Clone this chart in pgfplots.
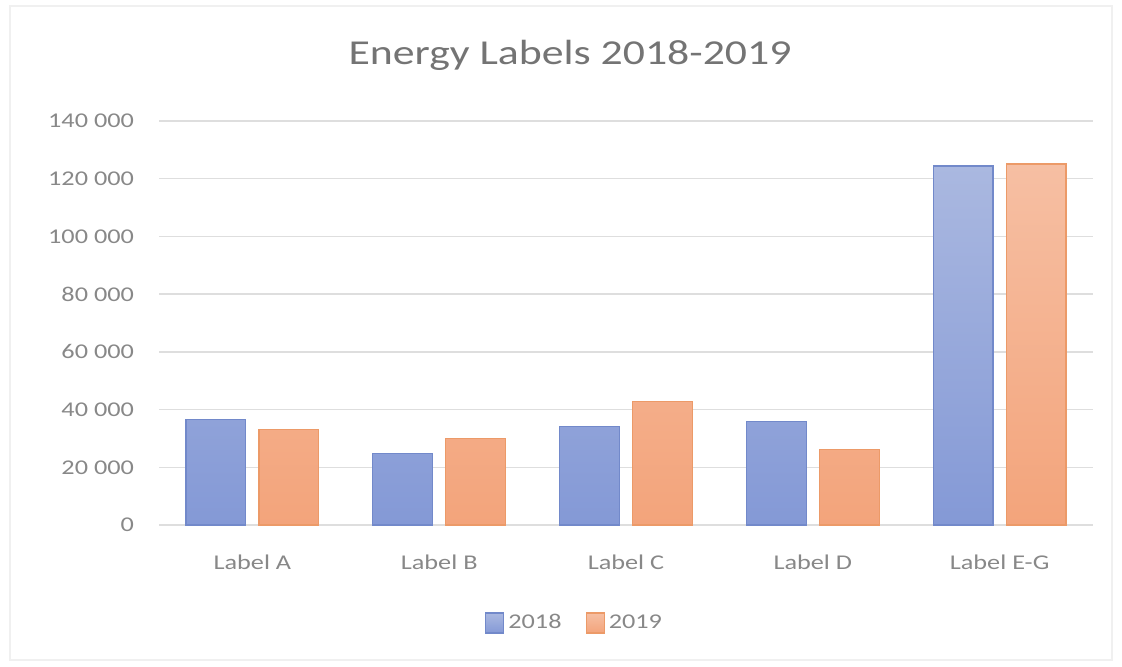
\documentclass[border=0pt]{standalone}
\usepackage{fontspec}
\setmainfont{Carlito}[FakeStretch=1.25]
\usepackage{pgfplots}
\pgfplotsset{compat=1.18}

\definecolor{bluetop}{HTML}{AAB8E0}
\definecolor{bluebot}{HTML}{8499D6}
\definecolor{blueedge}{HTML}{7289CA}
\definecolor{orangetop}{HTML}{F6BFA3}
\definecolor{orangebot}{HTML}{F3A47B}
\definecolor{orangeedge}{HTML}{EC9A68}
\definecolor{textgray}{HTML}{888888}
\definecolor{titlegray}{HTML}{747474}
\definecolor{gridgray}{HTML}{DEDEDE}
\definecolor{framegray}{HTML}{F0F0F0}

\begin{document}
\begin{tikzpicture}
  % page size and chart-area frame
  \path (0,0) rectangle (561pt,333pt);
  \draw[framegray, line width=0.6pt] (5pt,3pt) rectangle (556pt,330pt);

  \node[anchor=base, text=titlegray, font=\fontsize{17.5}{20}\selectfont]
    at (285pt,301pt) {Energy Labels 2018-2019};

  \begin{axis}[
    at={(79.5pt,70.5pt)}, anchor=south west,
    scale only axis, width=467pt, height=202pt,
    xmin=-0.5, xmax=4.5, ymin=0, ymax=140000,
    xtick={0,1,2,3,4},
    xticklabels={Label A,Label B,Label C,Label D,Label E-G},
    ytick={0,20000,40000,60000,80000,100000,120000,140000},
    yticklabels={0,20 000,40 000,60 000,80 000,100 000,120 000,140 000},
    scaled y ticks=false,
    ticklabel style={font=\fontsize{10.5}{12}\selectfont, text=textgray},
    yticklabel style={xshift=-9pt},
    xticklabel style={yshift=-11.5pt},
    major tick length=0pt,
    axis line style={draw=none},
    ymajorgrids, major grid style={gridgray, line width=0.7pt},
    legend style={at={(0.446,-0.2426)}, anchor=center, draw=none,
      legend columns=2, font=\fontsize{10.5}{12}\selectfont, text=textgray,
      /tikz/every even column/.append style={column sep=10pt},
      inner sep=0pt},
    legend image code/.code={\draw[#1] (0pt,-5pt) rectangle (9pt,5pt);},
  ]
    \addplot[ybar, bar width=0.32, bar shift=-0.195, draw=blueedge, line width=0.6pt,
      top color=bluetop, bottom color=bluebot]
      coordinates {(0,36600) (1,24900) (2,34200) (3,35900) (4,124400)};
    \addlegendentry{2018}
    \addplot[ybar, bar width=0.32, bar shift=0.195, draw=orangeedge, line width=0.6pt,
      top color=orangetop, bottom color=orangebot]
      coordinates {(0,33200) (1,30100) (2,42900) (3,26300) (4,125100)};
    \addlegendentry{2019}
  \end{axis}
\end{tikzpicture}
\end{document}
